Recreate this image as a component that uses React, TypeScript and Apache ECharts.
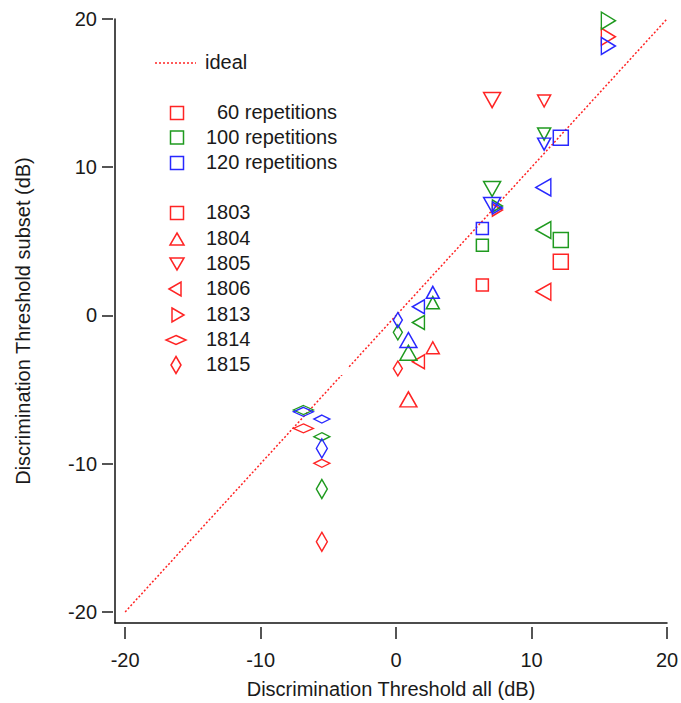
import React, { useEffect, useRef } from 'react';
import * as echarts from 'echarts';

// Subjects and their two threshold measurements (condition A, condition B)
const subjectIds = ['1803', '1804', '1805', '1806', '1813', '1814', '1815'];

// Threshold estimated from all trials (dB)
const thresholdAllA = [12.16, 0.91, 7.09, 10.87, 15.67, -6.84, -5.48];
const thresholdAllB = [6.37, 2.71, 10.93, 1.65, 7.48, -5.48, 0.13];

// Threshold estimated from subsets of trials (dB)
const subset60A = [3.62, -5.66, 14.53, 1.6, 18.81, -7.62, -15.27];
const subset100A = [5.09, -2.52, 8.53, 5.76, 19.89, -6.38, -11.71];
const subset120A = [11.99, -1.66, 7.45, 8.64, 18.18, -6.5, -8.97];
const subset60B = [2.05, -2.18, 14.47, -3.12, 7.11, -9.98, -3.58];
const subset100B = [4.73, 0.86, 12.24, -0.48, 7.38, -8.18, -1.14];
const subset120B = [5.86, 1.56, 11.56, 0.59, 7.25, -6.99, -0.31];

const repetitionLabels = ['60 repetitions', '100 repetitions', '120 repetitions'];
const axisTicks = [-20, -10, 0, 10, 20];
const idealLine = [[-20, -20], [20, 20]];

const FONT = '"Liberation Sans", Arial, sans-serif';
const repColors = ['#ff2424', '#1f9a1f', '#2828ff'];

const TRI_UP = 'path://M5,0L10,10L0,10Z';
const TRI_DOWN = 'path://M0,0L10,0L5,10Z';
const TRI_LEFT = 'path://M0,5L10,0L10,10Z';
const TRI_RIGHT = 'path://M0,0L10,5L0,10Z';
const subjectSymbols = ['rect', TRI_UP, TRI_DOWN, TRI_LEFT, TRI_RIGHT, 'diamond', 'diamond'];
const sizeA = [[15, 15], [17, 15], [17, 15], [15, 17], [14, 17], [20, 9], [11, 19]];
const sizeB = [[12, 12], [13, 12], [13, 12], [12, 14], [10, 12], [16, 8], [9, 15]];

const subsetsA = [subset60A, subset100A, subset120A];
const subsetsB = [subset60B, subset100B, subset120B];

function buildScatter() {
  const out: any[] = [];
  repColors.forEach((color, r) => {
    subjectIds.forEach((id, s) => {
      out.push({
        name: id + ' ' + repetitionLabels[r],
        type: 'scatter',
        xAxisIndex: 0,
        yAxisIndex: 0,
        symbol: subjectSymbols[s],
        itemStyle: { color: 'rgba(0,0,0,0)', borderColor: color, borderWidth: 1.5, opacity: 1 },
        emphasis: { disabled: true },
        z: 3 + r,
        data: [
          { value: [thresholdAllA[s], subsetsA[r][s]], symbolSize: sizeA[s] },
          { value: [thresholdAllB[s], subsetsB[r][s]], symbolSize: sizeB[s] },
        ],
      });
    });
  });
  return out;
}

// Legend drawing helpers
function tri(cx: number, cy: number, w: number, h: number, dir: string) {
  const l = cx - w / 2, r = cx + w / 2, t = cy - h / 2, b = cy + h / 2;
  if (dir === 'up') return [[cx, t], [r, b], [l, b]];
  if (dir === 'down') return [[l, t], [r, t], [cx, b]];
  if (dir === 'left') return [[l, cy], [r, t], [r, b]];
  return [[l, t], [r, cy], [l, b]];
}
function diamond(cx: number, cy: number, w: number, h: number) {
  return [[cx, cy - h / 2], [cx + w / 2, cy], [cx, cy + h / 2], [cx - w / 2, cy]];
}

function legendGraphics() {
  const g: any[] = [];
  const stroke = (c: string) => ({ fill: 'none', stroke: c, lineWidth: 1.5 });
  const txt = (x: number, y: number, text: string) => ({
    type: 'text', x, y, z: 20,
    style: { text, fontSize: 20, fontFamily: FONT, fill: '#1a1a1a', verticalAlign: 'middle', align: 'left' },
  });
  // white legend box
  g.push({ type: 'rect', z: 10, shape: { x: 140, y: 40, width: 208, height: 335 }, style: { fill: '#fff' } });
  g.push({ type: 'line', z: 20, shape: { x1: 155, y1: 63, x2: 196, y2: 63 }, style: { stroke: '#ff2424', lineWidth: 1.5, lineDash: [2, 2] } });
  g.push(txt(205, 62, 'ideal'));

  const repY = [113, 137.5, 163];
  const repX = [217, 206, 206];
  repColors.forEach((c, i) => {
    g.push({ type: 'rect', z: 20, shape: { x: 177 - 6.5, y: repY[i] - 6.5, width: 13, height: 13 }, style: stroke(c) });
    g.push(txt(repX[i], repY[i] - 1, repetitionLabels[i]));
  });

  const subY = [213, 239, 264, 289, 315, 340, 365];
  const red = repColors[0];
  subjectIds.forEach((id, i) => {
    const y = subY[i];
    if (i === 0) g.push({ type: 'rect', z: 20, shape: { x: 170.5, y: y - 6.5, width: 13, height: 13 }, style: stroke(red) });
    if (i === 1) g.push({ type: 'polygon', z: 20, shape: { points: tri(177, y, 14, 12, 'up') }, style: stroke(red) });
    if (i === 2) g.push({ type: 'polygon', z: 20, shape: { points: tri(177, y, 14, 12, 'down') }, style: stroke(red) });
    if (i === 3) g.push({ type: 'polygon', z: 20, shape: { points: tri(175, y, 12, 14, 'left') }, style: stroke(red) });
    if (i === 4) g.push({ type: 'polygon', z: 20, shape: { points: tri(178, y, 12, 14, 'right') }, style: stroke(red) });
    if (i === 5) g.push({ type: 'polygon', z: 20, shape: { points: diamond(176, y, 20, 9) }, style: stroke(red) });
    if (i === 6) g.push({ type: 'polygon', z: 20, shape: { points: diamond(176, y, 10, 17) }, style: stroke(red) });
    g.push(txt(206, y - 1, id));
  });
  return g;
}

const axisText = { fontSize: 20, fontFamily: FONT, color: '#1a1a1a' };

const option: any = {
  animation: false,
  backgroundColor: '#ffffff',
  grid: { left: 115, right: 14, top: 19, bottom: 80, outerBoundsMode: 'none' },
  xAxis: [
    {
      type: 'value', min: -20.75, max: 20,
      axisLine: { show: true, onZero: false, lineStyle: { color: '#111', width: 1.5 } },
      axisTick: { show: false }, axisLabel: { show: false }, splitLine: { show: false },
      name: 'Discrimination Threshold all (dB)', nameLocation: 'middle', nameGap: 56,
      nameTextStyle: axisText,
    },
    {
      type: 'value', min: -20.75, max: 20, position: 'bottom', offset: 4,
      axisLine: { show: false, onZero: false },
      axisTick: { show: true, length: 12, customValues: axisTicks, lineStyle: { color: '#555', width: 2 } },
      axisLabel: { show: true, customValues: axisTicks, margin: 23, ...axisText },
      splitLine: { show: false },
    },
  ],
  yAxis: [
    {
      type: 'value', min: -20.75, max: 20,
      axisLine: { show: true, onZero: false, lineStyle: { color: '#111', width: 1.5 } },
      axisTick: { show: false }, axisLabel: { show: false }, splitLine: { show: false },
      name: 'Discrimination Threshold subset (dB)', nameLocation: 'middle', nameGap: 82,
      nameTextStyle: axisText,
    },
    {
      type: 'value', min: -20.75, max: 20, position: 'left', offset: 2,
      axisLine: { show: false, onZero: false },
      axisTick: { show: true, length: 11, customValues: axisTicks, lineStyle: { color: '#555', width: 2 } },
      axisLabel: { show: true, customValues: axisTicks, margin: 16, ...axisText },
      splitLine: { show: false },
    },
  ],
  graphic: legendGraphics(),
  series: [
    {
      name: 'ideal', type: 'line', xAxisIndex: 0, yAxisIndex: 0,
      data: idealLine, symbol: 'none', silent: true, z: 1,
      lineStyle: { color: '#ff2424', width: 1.5, type: [2, 2] },
    },
    ...buildScatter(),
  ],
};

export default function App() {
  const ref = useRef<HTMLDivElement>(null);
  useEffect(() => {
    const chart = echarts.init(ref.current!, undefined, { renderer: 'svg' });
    chart.setOption(option);
    return () => chart.dispose();
  }, []);
  return (
    <div
      ref={ref}
      style={{ position: 'fixed', left: 0, top: 0, width: 681, height: 703, background: '#fff' }}
    />
  );
}
